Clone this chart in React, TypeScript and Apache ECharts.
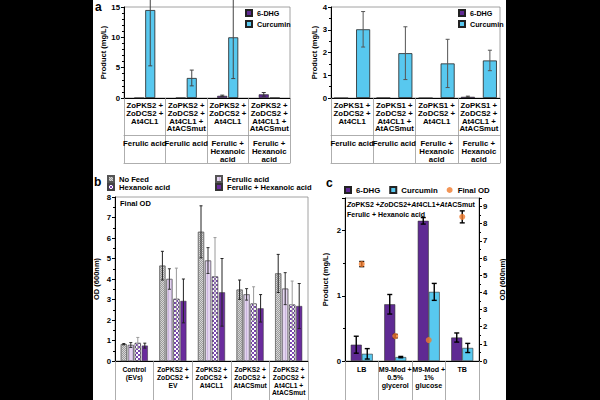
import React, { useEffect, useRef } from "react";
import * as echarts from "echarts";

const FONT = "'Liberation Sans', Arial, sans-serif";

// ---- Panel a (left): ZoPKS2 constructs ----
const pks2Genotypes = [
  "ZoPKS2 +\nZoDCS2 +\nAt4CL1",
  "ZoPKS2 +\nZoDCS2 +\nAt4CL1 +\nAtACSmut",
  "ZoPKS2 +\nZoDCS2 +\nAt4CL1",
  "ZoPKS2 +\nZoDCS2 +\nAt4CL1 +\nAtACSmut",
];
const feeds = ["Ferulic acid", "Ferulic acid", "Ferulic +\nHexanoic\nacid", "Ferulic +\nHexanoic\nacid"];
const pks2Dhg = [0.02, 0.04, 0.35, 0.6];
const pks2DhgErr = [0, 0, 0.12, 0.3];
const pks2Curcumin = [14.5, 3.3, 10.0, 0];
const pks2CurcuminErr = [9.2, 1.3, 6.8, 0];

// ---- Panel a (right): ZoPKS1 constructs ----
const pks1Genotypes = [
  "ZoPKS1 +\nZoDCS2 +\nAt4CL1",
  "ZoPKS1 +\nZoDCS2 +\nAt4CL1 +\nAtACSmut",
  "ZoPKS1 +\nZoDCS2 +\nAt4CL1",
  "ZoPKS1 +\nZoDCS2 +\nAt4CL1 +\nAtACSmut",
];
const pks1Dhg = [0, 0.01, 0, 0.05];
const pks1DhgErr = [0, 0, 0, 0.03];
const pks1Curcumin = [3.02, 1.97, 1.52, 1.65];
const pks1CurcuminErr = [0.78, 1.16, 1.06, 0.45];

// ---- Panel b: final OD by strain and feed ----
const odStrains = [
  "Control\n(EVs)",
  "ZoPKS2 +\nZoDCS2 +\nEV",
  "ZoPKS2 +\nZoDCS2 +\nAt4CL1",
  "ZoPKS2 +\nZoDCS2 +\nAtACSmut",
  "ZoPKS2 +\nZoDCS2 +\nAt4CL1 +\nAtACSmut",
];
const feedNames = ["No Feed", "Ferulic acid", "Hexanoic acid", "Ferulic + Hexanoic acid"];
const odNoFeed = [0.82, 4.65, 6.3, 3.48, 4.27];
const odNoFeedErr = [0.03, 0.7, 1.27, 0.47, 0.93];
const odFerulic = [0.78, 4.0, 4.9, 3.25, 3.53];
const odFerulicErr = [0.12, 0.5, 0.63, 0.28, 0.78];
const odHexanoic = [0.88, 3.03, 4.12, 2.8, 2.75];
const odHexanoicErr = [0.27, 1.5, 1.9, 0.82, 1.15];
const odBoth = [0.75, 2.93, 3.35, 2.57, 2.68];
const odBothErr = [0.12, 1.07, 1.65, 0.67, 1.1];

// ---- Panel c: media comparison ----
const media = ["LB", "M9-Mod +\n0.5%\nglycerol", "M9-Mod +\n1%\nglucose", "TB"];
const mediaDhg = [0.25, 0.87, 2.15, 0.36];
const mediaDhgErr = [0.13, 0.15, 0.05, 0.07];
const mediaCurcumin = [0.11, 0.06, 1.06, 0.2];
const mediaCurcuminErr = [0.08, 0.01, 0.13, 0.07];
const mediaOd = [5.65, 1.45, 1.22, 8.4];
const mediaOdErr = [0.15, 0.1, 0.0, 0.35];

const PURPLE = "#5f2a93";
const BLUE = "#58c8ef";
const ORANGE = "#f07a2c";

const bold = (size: number) => ({ fontFamily: FONT, fontWeight: "bold" as const, fontSize: size, color: "#000" });

// Offset of bar i (of n) from its category centre.
const barOffset = (i: number, n: number, bw: number, gap: number) =>
  -((n * bw + (n - 1) * gap) / 2) + bw / 2 + i * (bw + gap);

function errorSeries(
  name: string,
  vals: number[],
  errs: number[],
  xAxisIndex: number,
  yAxisIndex: number,
  offset: number,
  cap: number,
  color: string,
  width = 1
) {
  return {
    type: "custom",
    name: name + " error",
    xAxisIndex,
    yAxisIndex,
    z: 5,
    clip: false,
    silent: true,
    encode: { x: 0, y: [1, 2] },
    data: vals.map((v, i) => [i, v - errs[i], v + errs[i]]),
    renderItem: (_p: any, api: any) => {
      const lo = api.coord([api.value(0), api.value(1)]);
      const hi = api.coord([api.value(0), api.value(2)]);
      if (Math.abs(lo[1] - hi[1]) < 0.5) return null;
      const cx = lo[0] + offset;
      const st = { stroke: color, lineWidth: width };
      return {
        type: "group",
        children: [
          { type: "line", shape: { x1: cx, y1: lo[1], x2: cx, y2: hi[1] }, style: st },
          { type: "line", shape: { x1: cx - cap / 2, y1: lo[1], x2: cx + cap / 2, y2: lo[1] }, style: st },
          { type: "line", shape: { x1: cx - cap / 2, y1: hi[1], x2: cx + cap / 2, y2: hi[1] }, style: st },
        ],
      };
    },
  };
}

function valueAxis(gridIndex: number, max: number, interval: number, minor: number, nameGap: number, extra: any = {}) {
  return {
    type: "value",
    gridIndex,
    min: 0,
    max,
    interval,
    name: "Product (mg/L)",
    nameLocation: "middle",
    nameGap,
    nameTextStyle: bold(7.5),
    axisLine: { show: true, lineStyle: { color: "#000", width: 1 } },
    axisTick: { show: true, length: 3, lineStyle: { color: "#000" } },
    minorTick: { show: true, splitNumber: minor, length: 2, lineStyle: { color: "#000" } },
    splitLine: { show: false },
    axisLabel: { ...bold(7.8), margin: 4 },
    ...extra,
  };
}

function tableAxes(gridIndex: number, genotypes: string[], conditions: string[]) {
  const line = { show: true, lineStyle: { color: "#999", width: 0.8 } };
  return [
    {
      type: "category",
      gridIndex,
      data: genotypes,
      axisLine: { show: true, lineStyle: { color: "#000", width: 1 } },
      axisTick: { show: true, length: 65, interval: 0, lineStyle: { color: "#999", width: 0.8 } },
      axisLabel: { ...bold(7.8), interval: 0, lineHeight: 7.6, margin: 4 },
    },
    {
      type: "category",
      gridIndex,
      position: "bottom",
      offset: 37,
      data: conditions,
      axisLine: line,
      axisTick: { show: false },
      axisLabel: { ...bold(7.8), interval: 0, lineHeight: 7.6, margin: 5 },
    },
    {
      type: "category",
      gridIndex,
      position: "bottom",
      offset: 65,
      data: conditions,
      axisLine: line,
      axisTick: { show: false },
      axisLabel: { show: false },
    },
  ];
}

const frame = { show: true, borderColor: "#8a8a8a", borderWidth: 0.8, backgroundColor: "transparent" };

export default function App() {
  const ref = useRef<HTMLDivElement>(null);

  useEffect(() => {
    if (!ref.current) return;
    const chart = echarts.init(ref.current, undefined, { renderer: "svg" });

    const legendText = (s: number) => ({ ...bold(s) });
    const aBw = 10, aGap = 1;
    const a2Bw = 14, a2Gap = 8;
    const bBw = 6, bGap = 1;
    const cBw = 11, cGap = 0;

    const bSeriesVals = [odNoFeed, odFerulic, odHexanoic, odBoth];
    const bSeriesErrs = [odNoFeedErr, odFerulicErr, odHexanoicErr, odBothErr];
    const bStyles: any[] = [
      {
        color: "#d6d6d6",
        borderColor: "#555",
        borderWidth: 0.5,
        decal: { symbol: "rect", symbolSize: 1, dashArrayX: [[1, 1], [0, 1, 1, 0]], dashArrayY: [1, 0], color: "#9c9c9c" },
      },
      {
        color: "#e3d4ef",
        borderColor: "#555",
        borderWidth: 0.5,
        decal: { symbol: "rect", symbolSize: 1, dashArrayX: [1, 2], dashArrayY: [2, 0], color: "#cbb6de" },
      },
      {
        color: "#7b48b0",
        borderColor: "#444",
        borderWidth: 0.5,
        decal: { symbol: "rect", symbolSize: 1, dashArrayX: [[2, 2], [0, 2, 2, 0]], dashArrayY: [2, 0], color: "#ffffff" },
      },
      { color: "#6a2c9d", borderColor: "#333", borderWidth: 0.5 },
    ];
    const bErrColors = ["#222", "#333", "#9a9a9a", "#222"];

    const option: any = {
      animation: false,
      backgroundColor: "#ffffff",
      textStyle: { fontFamily: FONT },
      grid: [
        { left: 124, top: 7, width: 166, height: 91, ...frame },
        { left: 331, top: 7, width: 169, height: 91, ...frame },
        { left: 115, top: 197, width: 193, height: 164, ...frame },
        { left: 345, top: 198, width: 134, height: 163, ...frame },
      ],
      xAxis: [
        ...tableAxes(0, pks2Genotypes, feeds),
        ...tableAxes(1, pks1Genotypes, feeds),
        {
          type: "category",
          gridIndex: 2,
          data: odStrains,
          axisLine: { show: true, lineStyle: { color: "#000", width: 1 } },
          axisTick: { show: true, length: 45, interval: 0, lineStyle: { color: "#999", width: 0.8 } },
          axisLabel: { ...bold(6.7), interval: 0, lineHeight: 7.6, margin: 5 },
        },
        {
          type: "category",
          gridIndex: 3,
          data: media,
          axisLine: { show: true, lineStyle: { color: "#000", width: 1 } },
          axisTick: { show: true, length: 45, interval: 0, lineStyle: { color: "#999", width: 0.8 } },
          axisLabel: { ...bold(7.1), interval: 0, lineHeight: 7.8, margin: 5 },
        },
      ],
      yAxis: [
        valueAxis(0, 15, 5, 5, 17),
        valueAxis(1, 4, 1, 2, 12),
        valueAxis(2, 8, 1, 2, 15, { name: "OD (600nm)" }),
        valueAxis(3, 2.5, 1, 2, 16, { axisLabel: { ...bold(7.8), margin: 4, showMaxLabel: false } }),
        valueAxis(3, 9.5, 1, 2, 19, {
          name: "OD (600nm)",
          position: "right",
          axisLabel: { ...bold(7.8), margin: 4, showMaxLabel: false },
        }),
      ],
      legend: [
        {
          data: [
            { name: "6-DHG", icon: "rect" },
            { name: "Curcumin", icon: "rect" },
          ],
          orient: "vertical",
          left: 245,
          top: 9,
          itemWidth: 6,
          itemHeight: 6,
          itemGap: 3,
          padding: 0,
          textStyle: legendText(7.2),
        },
        {
          data: [
            { name: "6-DHG", icon: "rect" },
            { name: "Curcumin", icon: "rect" },
          ],
          orient: "vertical",
          left: 458,
          top: 9,
          itemWidth: 6,
          itemHeight: 6,
          itemGap: 3,
          padding: 0,
          textStyle: legendText(7.2),
        },
        {
          data: [
            { name: feedNames[0], icon: "rect" },
            { name: feedNames[2], icon: "rect" },
          ],
          orient: "vertical",
          left: 107,
          top: 175,
          itemWidth: 6,
          itemHeight: 6,
          itemGap: 0,
          padding: 0,
          textStyle: legendText(7.6),
        },
        {
          data: [
            { name: feedNames[1], icon: "rect" },
            { name: feedNames[3], icon: "rect" },
          ],
          orient: "vertical",
          left: 215,
          top: 175,
          itemWidth: 6,
          itemHeight: 6,
          itemGap: 0,
          padding: 0,
          textStyle: legendText(7.6),
        },
        {
          data: [
            { name: "6-DHG", icon: "rect" },
            { name: "Curcumin", icon: "rect" },
            { name: "Final OD", icon: "circle" },
          ],
          orient: "horizontal",
          left: 344,
          top: 186,
          itemWidth: 6,
          itemHeight: 6,
          itemGap: 9,
          padding: 0,
          textStyle: legendText(7.8),
        },
      ],
      series: [
        // panel a, left
        {
          type: "bar",
          name: "6-DHG",
          xAxisIndex: 0,
          yAxisIndex: 0,
          data: pks2Dhg,
          barWidth: aBw,
          barGap: `${(aGap / aBw) * 100}%`,
          itemStyle: { color: PURPLE, borderColor: "#222", borderWidth: 0.6 },
        },
        {
          type: "bar",
          name: "Curcumin",
          xAxisIndex: 0,
          yAxisIndex: 0,
          data: pks2Curcumin,
          barWidth: aBw,
          barGap: `${(aGap / aBw) * 100}%`,
          itemStyle: { color: BLUE, borderColor: "#222", borderWidth: 0.8 },
        },
        errorSeries("6-DHG", pks2Dhg, pks2DhgErr, 0, 0, barOffset(0, 2, aBw, aGap), 4, "#333"),
        errorSeries("Curcumin", pks2Curcumin, pks2CurcuminErr, 0, 0, barOffset(1, 2, aBw, aGap), 4, "#444"),
        // panel a, right
        {
          type: "bar",
          name: "6-DHG",
          xAxisIndex: 3,
          yAxisIndex: 1,
          data: pks1Dhg,
          barWidth: a2Bw,
          barGap: `${(a2Gap / a2Bw) * 100}%`,
          itemStyle: { color: PURPLE, borderColor: "#222", borderWidth: 0.6 },
        },
        {
          type: "bar",
          name: "Curcumin",
          xAxisIndex: 3,
          yAxisIndex: 1,
          data: pks1Curcumin,
          barWidth: a2Bw,
          barGap: `${(a2Gap / a2Bw) * 100}%`,
          itemStyle: { color: BLUE, borderColor: "#222", borderWidth: 0.8 },
        },
        errorSeries("6-DHG", pks1Dhg, pks1DhgErr, 3, 1, barOffset(0, 2, a2Bw, a2Gap), 4, "#333"),
        errorSeries("Curcumin", pks1Curcumin, pks1CurcuminErr, 3, 1, barOffset(1, 2, a2Bw, a2Gap), 4, "#555"),
        // panel b
        ...bSeriesVals.map((vals, i) => ({
          type: "bar",
          name: feedNames[i],
          xAxisIndex: 6,
          yAxisIndex: 2,
          data: vals,
          barWidth: bBw,
          barGap: `${(bGap / bBw) * 100}%`,
          itemStyle: bStyles[i],
        })),
        ...bSeriesVals.map((vals, i) =>
          errorSeries(feedNames[i], vals, bSeriesErrs[i], 6, 2, barOffset(i, 4, bBw, bGap), 3, bErrColors[i])
        ),
        // panel c
        {
          type: "bar",
          name: "6-DHG",
          xAxisIndex: 7,
          yAxisIndex: 3,
          data: mediaDhg,
          barWidth: cBw,
          barGap: "0%",
          itemStyle: { color: PURPLE, borderColor: "#333", borderWidth: 0.6 },
        },
        {
          type: "bar",
          name: "Curcumin",
          xAxisIndex: 7,
          yAxisIndex: 3,
          data: mediaCurcumin,
          barWidth: cBw,
          barGap: "0%",
          itemStyle: { color: BLUE, borderColor: "#333", borderWidth: 0.6 },
        },
        errorSeries("6-DHG", mediaDhg, mediaDhgErr, 7, 3, barOffset(0, 2, cBw, cGap), 5, "#000", 1.4),
        errorSeries("Curcumin", mediaCurcumin, mediaCurcuminErr, 7, 3, barOffset(1, 2, cBw, cGap), 5, "#000", 1.4),
        {
          type: "scatter",
          name: "Final OD",
          xAxisIndex: 7,
          yAxisIndex: 4,
          data: mediaOd,
          symbol: "circle",
          symbolSize: 6,
          z: 6,
          itemStyle: { color: ORANGE },
        },
        errorSeries("Final OD", mediaOd, mediaOdErr, 7, 4, 0, 5, "#000", 1.4),
      ],
      graphic: [
        // dark side margins of the figure
        { type: "rect", left: 0, top: 0, shape: { width: 93, height: 400 }, style: { fill: "#000" }, z: 100 },
        { type: "rect", left: 506, top: 0, shape: { width: 94, height: 400 }, style: { fill: "#000" }, z: 100 },
        { type: "text", left: 95, top: 1, style: { text: "a", font: `bold 12px ${FONT}`, fill: "#000" } },
        { type: "text", left: 94, top: 176, style: { text: "b", font: `bold 12px ${FONT}`, fill: "#000" } },
        { type: "text", left: 326, top: 177, style: { text: "c", font: `bold 12px ${FONT}`, fill: "#000" } },
        { type: "text", left: 120, top: 199, style: { text: "Final OD", font: `bold 7.5px ${FONT}`, fill: "#000" } },
        {
          type: "text",
          left: 347,
          top: 199,
          style: {
            text: "{i|Zo}PKS2 +{i|Zo}DCS2+{i|At}4CL1+{i|At}ACSmut\nFerulic + Hexanoic acid",
            font: `bold 7px ${FONT}`,
            lineHeight: 10,
            fill: "#000",
            rich: { i: { fontStyle: "italic", fontWeight: "bold", fontSize: 7, fontFamily: FONT } },
          },
        },
      ],
    };

    chart.setOption(option);
    return () => chart.dispose();
  }, []);

  return <div ref={ref} style={{ position: "absolute", left: 0, top: 0, width: 600, height: 400 }} />;
}
